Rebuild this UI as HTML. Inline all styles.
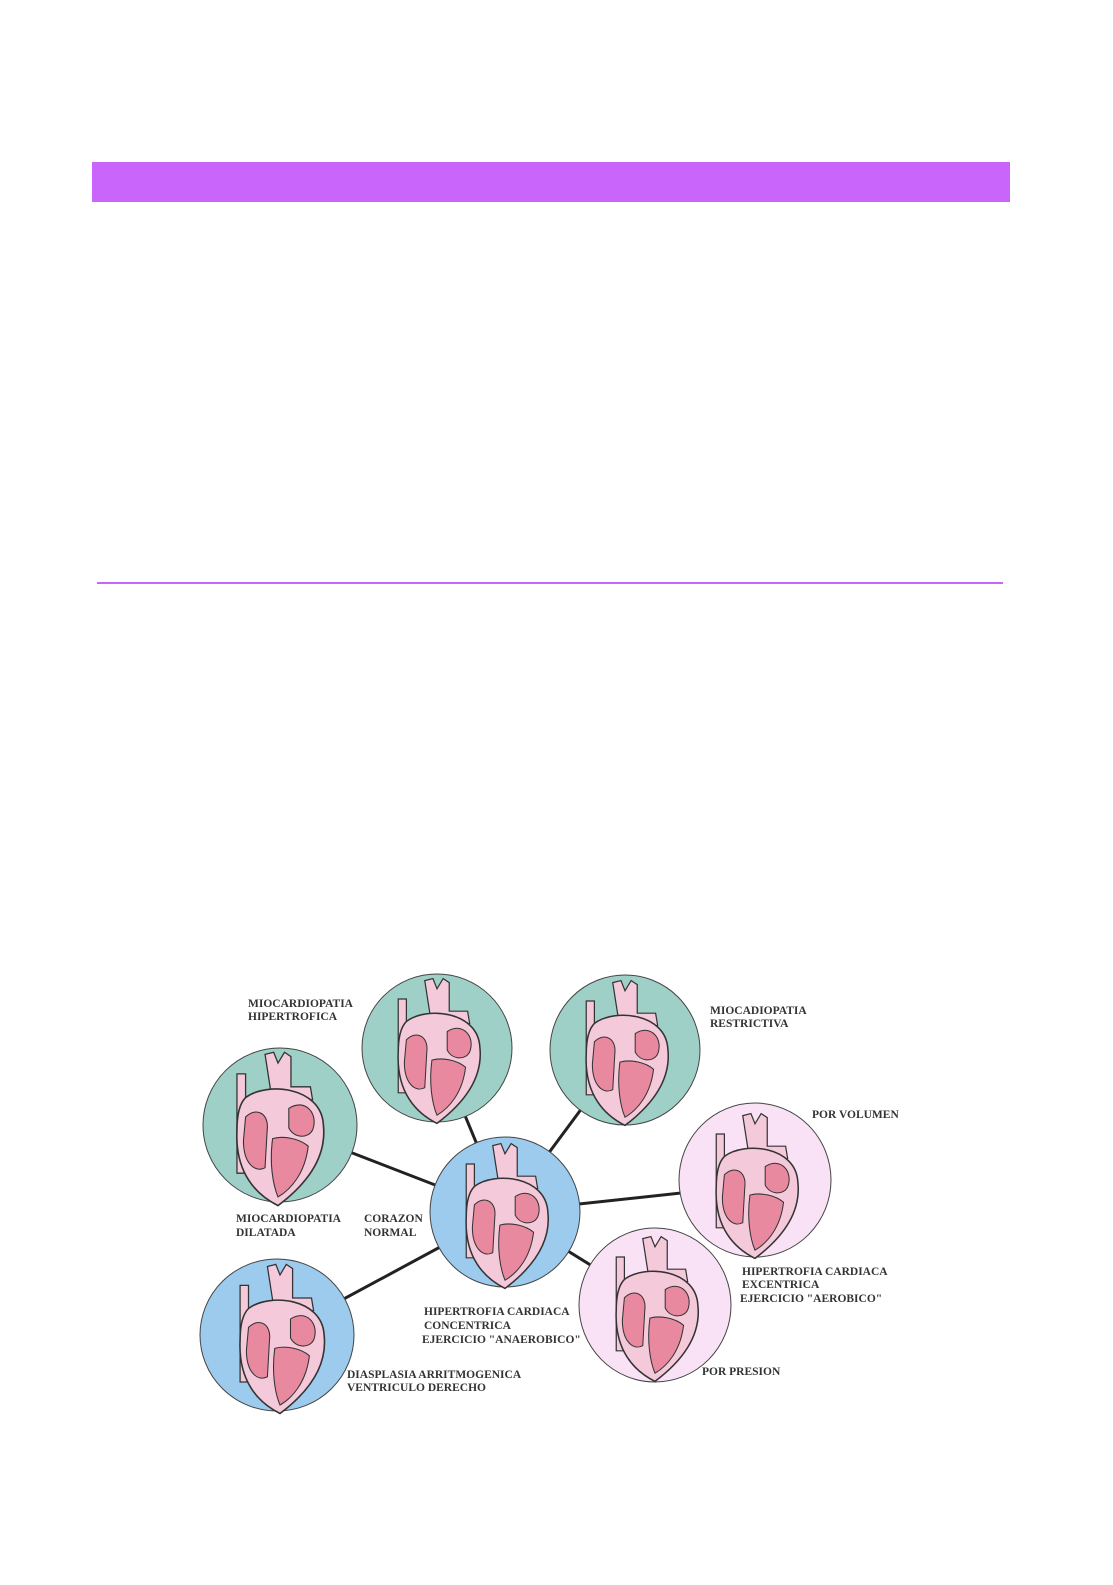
<!DOCTYPE html>
<html><head><meta charset="utf-8"><style>
html,body{margin:0;padding:0;background:#fff;}
body{width:1113px;height:1585px;position:relative;overflow:hidden;}
.bar{position:absolute;left:92px;top:162px;width:918px;height:40px;background:#c965fb;}
.line{position:absolute;left:97px;top:582px;width:906px;height:2px;background:#c965fb;}
svg{position:absolute;left:0;top:0;}
text{font-family:"Liberation Serif",serif;font-weight:bold;font-size:11.5px;fill:#333;}
</style></head><body>
<div class="bar"></div>
<div class="line"></div>
<svg width="1113" height="1585" viewBox="0 0 1113 1585">
<defs>
<g id="h">
  <path d="M-38,-52 L-30,-52 L-30,40 L-38,40 Z" fill="#f4c9da" stroke="#333" stroke-width="1.2"/>
  <path d="M-12,-70 L-4,-72 L0,-62 L6,-72 L12,-68 L12,-40 L30,-40 L32,-28 L-5,-25 Z" fill="#f4c9da" stroke="#333" stroke-width="1.2"/>
  <path d="M-30,-30 C-10,-45 40,-40 42,-5 C46,30 20,55 0,70 C-20,60 -40,40 -38,0 C-38,-15 -35,-25 -30,-30 Z" fill="#f4c9da" stroke="#333" stroke-width="1.5"/>
  <path d="M-30,-12 C-20,-22 -8,-15 -10,0 L-12,35 C-22,40 -32,30 -32,10 Z" fill="#e8899f" stroke="#333" stroke-width="1"/>
  <path d="M10,-20 C25,-30 38,-15 32,0 C28,8 15,8 10,-2 Z" fill="#e8899f" stroke="#333" stroke-width="1"/>
  <path d="M-5,8 C5,5 20,8 28,15 C25,40 12,55 0,62 C-5,50 -8,30 -5,8 Z" fill="#e8899f" stroke="#333" stroke-width="1"/>
</g>
</defs>
<g stroke="#222" stroke-width="3">
  <line x1="505" y1="1212" x2="437" y2="1048"/>
  <line x1="505" y1="1212" x2="625" y2="1050"/>
  <line x1="505" y1="1212" x2="280" y2="1125"/>
  <line x1="505" y1="1212" x2="755" y2="1185"/>
  <line x1="505" y1="1212" x2="277" y2="1335"/>
  <line x1="505" y1="1212" x2="655" y2="1305"/>
</g>
<g stroke="#444" stroke-width="1">
  <ellipse cx="437" cy="1048" rx="75" ry="74" fill="#9fd0c8"/>
  <ellipse cx="625" cy="1050" rx="75" ry="75" fill="#9fd0c8"/>
  <ellipse cx="280" cy="1125" rx="77" ry="77" fill="#9fd0c8"/>
  <ellipse cx="755" cy="1180" rx="76" ry="77" fill="#f9e2f5"/>
  <ellipse cx="277" cy="1335" rx="77" ry="76" fill="#9ccbee"/>
  <ellipse cx="655" cy="1305" rx="76" ry="77" fill="#f9e2f5"/>
  <ellipse cx="505" cy="1212" rx="75" ry="75" fill="#9ccbee"/>
</g>
<use href="#h" transform="translate(437,1052) scale(1.02)"/>
<use href="#h" transform="translate(625,1054) scale(1.02)"/>
<use href="#h" transform="translate(278,1130) scale(1.08)"/>
<use href="#h" transform="translate(505,1217) scale(1.02)"/>
<use href="#h" transform="translate(755,1187) scale(1.02)"/>
<use href="#h" transform="translate(280,1340) scale(1.05)"/>
<use href="#h" transform="translate(655,1310) scale(1.02)"/>
<text x="248" y="1007">MIOCARDIOPATIA</text>
<text x="248" y="1020">HIPERTROFICA</text>
<text x="710" y="1014">MIOCADIOPATIA</text>
<text x="710" y="1027">RESTRICTIVA</text>
<text x="812" y="1118">POR  VOLUMEN</text>
<text x="236" y="1222">MIOCARDIOPATIA</text>
<text x="236" y="1236">DILATADA</text>
<text x="364" y="1222">CORAZON</text>
<text x="364" y="1236">NORMAL</text>
<text x="742" y="1275">HIPERTROFIA CARDIACA</text>
<text x="742" y="1288">EXCENTRICA</text>
<text x="740" y="1302">EJERCICIO "AEROBICO"</text>
<text x="424" y="1315">HIPERTROFIA CARDIACA</text>
<text x="424" y="1329">CONCENTRICA</text>
<text x="422" y="1343">EJERCICIO "ANAEROBICO"</text>
<text x="702" y="1375">POR PRESION</text>
<text x="347" y="1378">DIASPLASIA ARRITMOGENICA</text>
<text x="347" y="1391">VENTRICULO DERECHO</text>
</svg>
</body></html>
